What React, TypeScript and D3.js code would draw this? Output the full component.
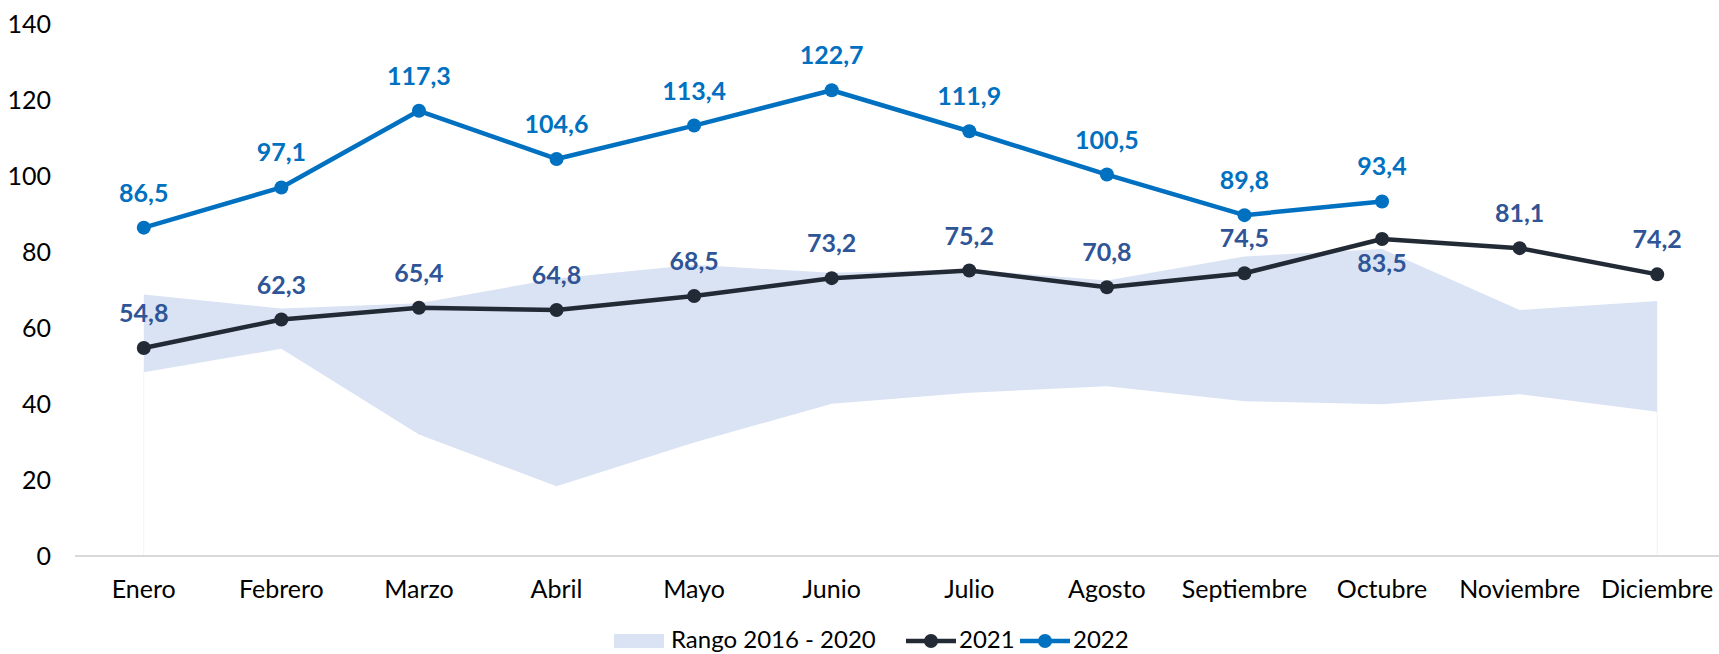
import React from "react";
import * as d3 from "d3";

const months = ["Enero","Febrero","Marzo","Abril","Mayo","Junio","Julio","Agosto","Septiembre","Octubre","Noviembre","Diciembre"];
const rangeLow = [48.4, 54.6, 32.0, 18.4, 29.9, 40.1, 43.0, 44.7, 40.8, 40.0, 42.6, 38.0];
const rangeHigh = [68.9, 65.2, 66.6, 73.1, 76.7, 74.6, 75.5, 72.6, 78.9, 80.9, 64.8, 67.2];
const s2021 = [54.8, 62.3, 65.4, 64.8, 68.5, 73.2, 75.2, 70.8, 74.5, 83.5, 81.1, 74.2];
const s2022 = [86.5, 97.1, 117.3, 104.6, 113.4, 122.7, 111.9, 100.5, 89.8, 93.4];
const yTicks = [0, 20, 40, 60, 80, 100, 120, 140];
const below2021 = ["Octubre"];

const W = 1719, H = 654;
const FONT = "Lato, 'Open Sans', sans-serif";
const C2021 = "#222A35", C2022 = "#0070C0", LBL2021 = "#2F5597", AREA = "#DAE3F3";

export default function App() {
  const x = d3.scaleBand<string>().domain(months).range([75, 1726]);
  const cx = (m: string) => (x(m) as number) + x.bandwidth() / 2;
  const y = d3.scaleLinear().domain([0, 140]).range([556, 24.6]);

  const area = d3.area<number>()
    .x((_, i) => cx(months[i]))
    .y0((_, i) => y(rangeLow[i]))
    .y1((d) => y(d));
  const line = d3.line<number>().x((_, i) => cx(months[i])).y((d) => y(d));
  const fmt = (v: number) => v.toFixed(1).replace(".", ",");

  return (
    <svg width={W} height={H} style={{ position: "absolute", left: 0, top: 0, display: "block", background: "#fff" }} fontFamily={FONT}>
      <path d={area(rangeHigh) || ""} fill={AREA} />
      <line x1={cx(months[0])} x2={cx(months[0])} y1={y(rangeLow[0])} y2={y(0)} stroke="#F2F2F2" strokeWidth={1} />
      <line x1={cx(months[11])} x2={cx(months[11])} y1={y(rangeLow[11])} y2={y(0)} stroke="#F2F2F2" strokeWidth={1} />
      <line x1={75} x2={W} y1={y(0)} y2={y(0)} stroke="#D9D9D9" strokeWidth={2} />
      {yTicks.map((t) => (
        <text key={t} x={51} y={y(t)} dy="0.35em" textAnchor="end" fontSize={25} fill="#000">{t}</text>
      ))}
      {months.map((m) => (
        <text key={m} x={cx(m)} y={598} textAnchor="middle" fontSize={25} fill="#000">{m}</text>
      ))}
      <path d={line(s2021) || ""} fill="none" stroke={C2021} strokeWidth={4.5} strokeLinejoin="round" />
      {s2021.map((v, i) => (
        <circle key={"a" + i} cx={cx(months[i])} cy={y(v)} r={7} fill={C2021} />
      ))}
      <path d={line(s2022) || ""} fill="none" stroke={C2022} strokeWidth={4.5} strokeLinejoin="round" />
      {s2022.map((v, i) => (
        <circle key={"b" + i} cx={cx(months[i])} cy={y(v)} r={7} fill={C2022} />
      ))}
      {s2021.map((v, i) => {
        const below = below2021.includes(months[i]);
        return (
          <text key={"la" + i} x={cx(months[i])} y={y(v) + (below ? 33 : -26)} textAnchor="middle" fontSize={25} fontWeight="bold" fill={LBL2021}>{fmt(v)}</text>
        );
      })}
      {s2022.map((v, i) => (
        <text key={"lb" + i} x={cx(months[i])} y={y(v) - 26} textAnchor="middle" fontSize={25} fontWeight="bold" fill={C2022}>{fmt(v)}</text>
      ))}
      <g fontSize={24} fill="#000">
        <rect x={614} y={634} width={50} height={14} fill={AREA} />
        <text x={671} y={648}>Rango 2016 - 2020</text>
        <line x1={906} x2={956} y1={641} y2={641} stroke={C2021} strokeWidth={4.5} />
        <circle cx={931} cy={641} r={7} fill={C2021} />
        <text x={959} y={648}>2021</text>
        <line x1={1020} x2={1070} y1={641} y2={641} stroke={C2022} strokeWidth={4.5} />
        <circle cx={1045} cy={641} r={7} fill={C2022} />
        <text x={1073} y={648}>2022</text>
      </g>
    </svg>
  );
}
